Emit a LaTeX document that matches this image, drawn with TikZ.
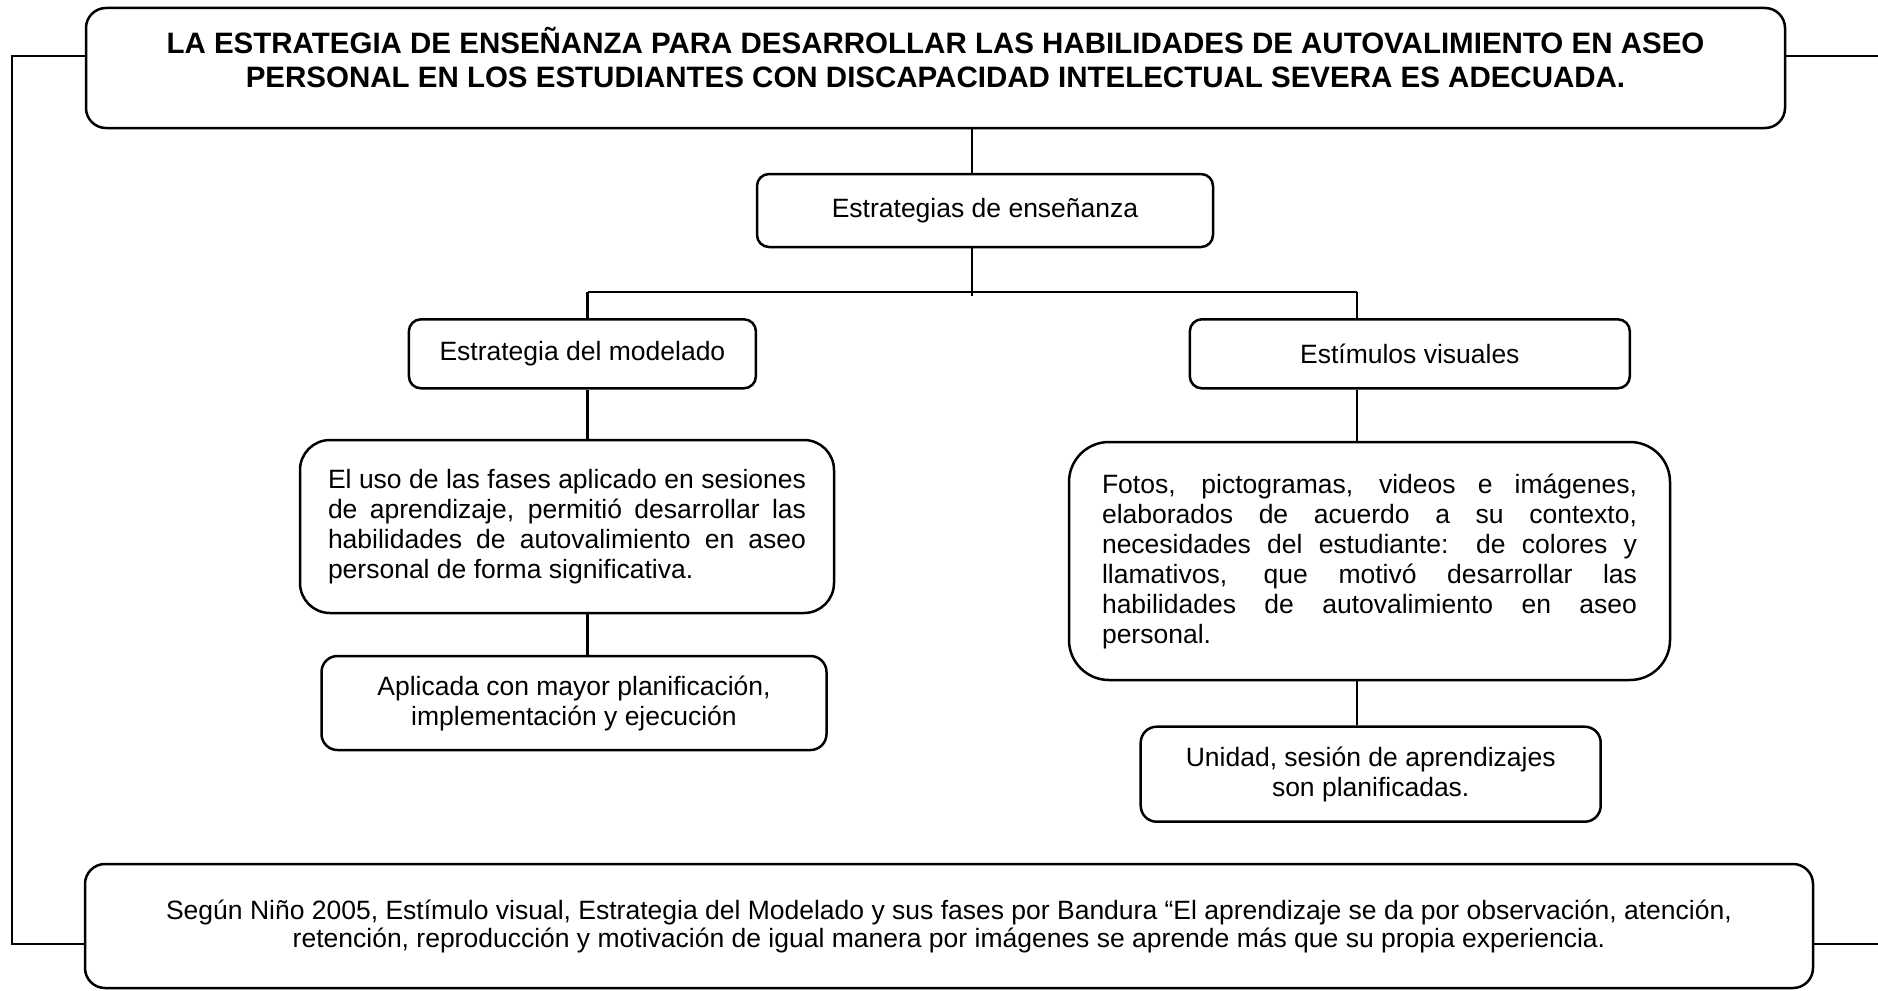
\documentclass[tikz,border=0pt]{standalone}
\usepackage{fontspec}
\setmainfont{Liberation Sans}
\usetikzlibrary{positioning}

\begin{document}
\begin{tikzpicture}[x=1pt,y=-1pt,
  caja/.style={draw, line width=2.5pt, inner sep=0pt, align=center,
    font=\fontsize{26.5}{30}\selectfont},
  linea/.style={line width=2.3pt}]
\useasboundingbox (0,0) rectangle (1878,990);
% titulo y pie
\node [caja, rounded corners=20pt, minimum width=1699pt, minimum height=120pt, text depth=21pt,
  font=\bfseries\fontsize{29.5}{34}\selectfont] (titulo) at (935.5,68)
  {LA ESTRATEGIA DE ENSEÑANZA PARA DESARROLLAR LAS HABILIDADES DE AUTOVALIMIENTO EN ASEO\\
   PERSONAL EN LOS ESTUDIANTES CON DISCAPACIDAD INTELECTUAL SEVERA ES ADECUADA.};
\node [caja, rounded corners=20pt, minimum width=1728pt, minimum height=124pt,
  font=\fontsize{26.5}{28}\selectfont] (pie) at (949,926)
  {Según Niño 2005, Estímulo visual, Estrategia del Modelado y sus fases por Bandura “El aprendizaje se da por observación, atención,\\
   retención, reproducción y motivación de igual manera por imágenes se aprende más que su propia experiencia.};
% arbol
\node [caja, rounded corners=12pt, minimum width=456pt, minimum height=73pt] (estrat) at (985,210.5) {Estrategias de enseñanza};
\node [caja, rounded corners=12pt, minimum width=347pt, minimum height=69pt] (modelado) at (582.4,353.8) {Estrategia del modelado};
\node [caja, rounded corners=12pt, minimum width=440pt, minimum height=69pt] (visual) at (1409.8,353.8) {Estímulos visuales};
\node [caja, rounded corners=30pt, minimum width=534pt, minimum height=173pt, text width=478pt, align=justify] (fases) at (567,526.5)
  {El uso de las fases aplicado en sesiones\linebreak de aprendizaje, permitió desarrollar las\linebreak
   habilidades de autovalimiento en aseo\linebreak personal de forma significativa.};
\node [caja, rounded corners=16pt, minimum width=505pt, minimum height=94pt] (aplicada) at (574,703)
  {Aplicada con mayor planificación,\\implementación y ejecución};
\node [caja, rounded corners=40pt, minimum width=601pt, minimum height=238pt, text width=535pt, align=justify] (fotos) at (1369.5,561)
  {Fotos, pictogramas, videos e imágenes,\linebreak elaborados de acuerdo a su contexto,\linebreak
   necesidades del estudiante: de colores y\linebreak llamativos, que motivó desarrollar las\linebreak
   habilidades de autovalimiento en aseo\linebreak personal.};
\node [caja, rounded corners=16pt, minimum width=460pt, minimum height=95pt] (unidad) at (1370.7,774.2)
  {Unidad, sesión de aprendizajes\\son planificadas.};
% conectores
\coordinate (izq) at (12,56);
\coordinate (izqb) at (12,944);
\coordinate (der) at (1878,56);
\coordinate (derb) at (1878,944);
\coordinate (tronco) at (972,296);
\coordinate (ramai) at (587.6,292);
\coordinate (ramad) at (1357,292);
\draw [linea] (titulo.west |- izq) -- (izq) -- (izqb) -- (pie.west |- izqb);
\draw [linea] (titulo.east |- der) -- (der);
\draw [linea] (pie.east |- derb) -- (derb);
\draw [linea] (titulo.south -| tronco) -- (estrat.north -| tronco);
\draw [linea] (estrat.south -| tronco) -- (tronco);
\draw [linea] (ramai) -- (ramad);
\draw [linea] (ramai) -- (modelado.north -| ramai);
\draw [linea] (modelado.south -| ramai) -- (fases.north -| ramai);
\draw [linea] (fases.south -| ramai) -- (aplicada.north -| ramai);
\draw [linea] (ramad) -- (visual.north -| ramad);
\draw [linea] (visual.south -| ramad) -- (fotos.north -| ramad);
\draw [linea] (fotos.south -| ramad) -- (unidad.north -| ramad);
\end{tikzpicture}
\end{document}
